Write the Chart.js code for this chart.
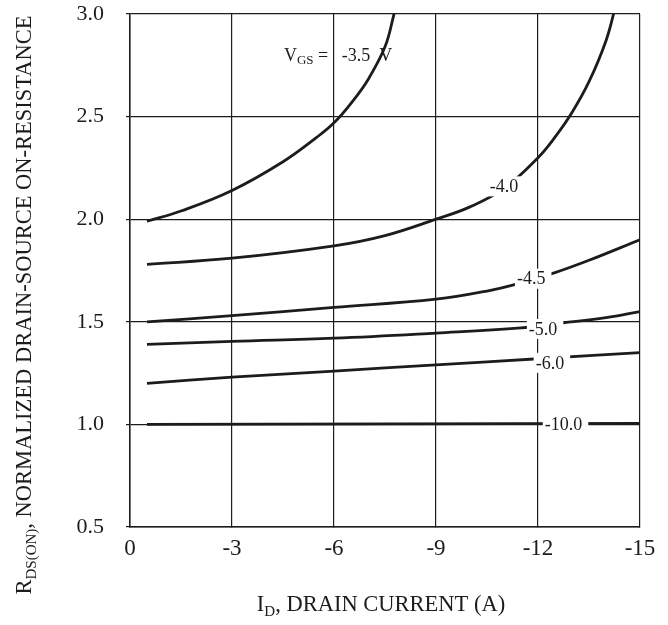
<!DOCTYPE html>
<html lang="en">
<head>
  <meta charset="UTF-8">
  <title>RDS(ON) vs ID</title>
  <style>
    html, body { margin: 0; padding: 0; background: #fff; }
    #wrap { width: 668px; height: 625px; }
  </style>
</head>
<body>
<div id="wrap"><canvas id="rdsChart" width="668" height="625"></canvas></div>

<script src="https://cdn.jsdelivr.net/npm/chart.js"></script>
<script>
  // ticks
  const xTicks = [0, -3, -6, -9, -12, -15];
  const yTicks = [0.5, 1.0, 1.5, 2.0, 2.5, 3.0];

  // curves (ID in A, normalized RDS(ON))
  const vgs35X = [-0.5, -1.5, -3, -4.5, -5.5, -6, -6.5, -7, -7.5, -7.75, -7.9];
  const vgs35Y = [1.99, 2.04, 2.14, 2.28, 2.40, 2.47, 2.565, 2.68, 2.84, 2.99, 3.1];

  const vgs40X = [-0.5, -3, -6, -7.5, -9, -10, -11, -12, -12.5, -13, -13.5, -14, -14.3];
  const vgs40Y = [1.78, 1.81, 1.87, 1.92, 2.0, 2.06, 2.15, 2.3, 2.4, 2.52, 2.67, 2.87, 3.05];

  const vgs45X = [-0.5, -3, -6, -9, -10.5, -11.5, -12.5, -13.5, -15];
  const vgs45Y = [1.5, 1.53, 1.57, 1.61, 1.65, 1.69, 1.74, 1.8, 1.9];

  const vgs50X = [-0.5, -3, -6, -9, -11.5, -12.5, -14, -15];
  const vgs50Y = [1.39, 1.405, 1.42, 1.445, 1.47, 1.49, 1.52, 1.55];

  const vgs60X = [-0.5, -3, -6, -9, -12, -15];
  const vgs60Y = [1.2, 1.23, 1.26, 1.29, 1.32, 1.35];

  const vgs100X = [-0.5, -15];
  const vgs100Y = [1.0, 1.005];

  // curve labels: text, x, y
  const curveLabels = [
    ['-4.0', -11.0, 2.16],
    ['-4.5', -11.8, 1.71],
    ['-5.0', -12.15, 1.465],
    ['-6.0', -12.35, 1.30],
    ['-10.0', -12.75, 1.0]
  ];

  function pts(xs, ys) {
    return xs.map((x, i) => ({ x: x, y: ys[i] }));
  }

  const ink = '#1c1c1c';
  const serif = '"Liberation Serif", "Times New Roman", serif';

  function curve(label, xs, ys) {
    return {
      label: label,
      data: pts(xs, ys),
      borderColor: ink,
      borderWidth: 2.8,
      pointRadius: 0,
      fill: false,
      tension: 0.4
    };
  }

  // labels on the curves + axis titles with subscripts
  const annotate = {
    id: 'annotate',
    afterDatasetsDraw(chart) {
      const ctx = chart.ctx;
      const xs = chart.scales.x, ys = chart.scales.y;
      ctx.save();
      ctx.font = '18px ' + serif;
      ctx.textAlign = 'center';
      ctx.textBaseline = 'middle';
      curveLabels.forEach(([t, x, y]) => {
        const px = xs.getPixelForValue(x);
        const py = ys.getPixelForValue(y);
        const w = ctx.measureText(t).width;
        ctx.fillStyle = '#fff';
        ctx.fillRect(px - w / 2 - 2, py - 10, w + 8, 20);
        ctx.fillStyle = ink;
        ctx.fillText(t, px, py + 1);
      });

      // VGS = -3.5 V
      let px = xs.getPixelForValue(-6.12);
      const py = ys.getPixelForValue(2.80);
      const big = '18px ' + serif, small = '13px ' + serif;
      ctx.textAlign = 'left';
      ctx.textBaseline = 'alphabetic';
      ctx.font = big; const w1 = ctx.measureText('V').width;
      ctx.font = small; const w2 = ctx.measureText('GS').width;
      ctx.font = big; const w3 = ctx.measureText(' =   -3.5  V').width;
      px -= (w1 + w2 + w3) / 2;
      ctx.fillStyle = ink;
      ctx.font = big; ctx.fillText('V', px, py + 6);
      ctx.font = small; ctx.fillText('GS', px + w1, py + 9);
      ctx.font = big; ctx.fillText(' =   -3.5  V', px + w1 + w2, py + 6);
      ctx.restore();
    },
    afterDraw(chart) {
      const ctx = chart.ctx;
      const area = chart.chartArea;
      ctx.save();
      ctx.fillStyle = ink;
      ctx.textBaseline = 'alphabetic';
      ctx.textAlign = 'left';

      // x title
      let big = '22.5px ' + serif, small = '15px ' + serif;
      const a = 'I', b = 'D', c = ', DRAIN CURRENT (A)';
      ctx.font = big; const wa = ctx.measureText(a).width, wc = ctx.measureText(c).width;
      ctx.font = small; const wb = ctx.measureText(b).width;
      let x0 = (area.left + area.right) / 2 - (wa + wb + wc) / 2 - 4;
      const yb = 611;
      ctx.font = big; ctx.fillText(a, x0, yb);
      ctx.font = small; ctx.fillText(b, x0 + wa, yb + 5);
      ctx.font = big; ctx.fillText(c, x0 + wa + wb, yb);

      // y title (rotated)
      big = '22.5px ' + serif; small = '15px ' + serif;
      const r = 'R', s = 'DS(ON)', t = ', NORMALIZED DRAIN-SOURCE ON-RESISTANCE';
      ctx.font = big; const wr = ctx.measureText(r).width, wt = ctx.measureText(t).width;
      ctx.font = small; const ws = ctx.measureText(s).width;
      ctx.translate(31, 305);
      ctx.rotate(-Math.PI / 2);
      x0 = -(wr + ws + wt) / 2;
      ctx.font = big; ctx.fillText(r, x0, 0);
      ctx.font = small; ctx.fillText(s, x0 + wr, 5);
      ctx.font = big; ctx.fillText(t, x0 + wr + ws, 0);
      ctx.restore();
    }
  };

  new Chart(document.getElementById('rdsChart').getContext('2d'), {
    type: 'line',
    data: {
      datasets: [
        curve('-3.5', vgs35X, vgs35Y),
        curve('-4.0', vgs40X, vgs40Y),
        curve('-4.5', vgs45X, vgs45Y),
        curve('-5.0', vgs50X, vgs50Y),
        curve('-6.0', vgs60X, vgs60Y),
        curve('-10.0', vgs100X, vgs100Y)
      ]
    },
    options: {
      responsive: false,
      animation: false,
      layout: { padding: { left: 0, right: 28, top: 14, bottom: 0 } },
      plugins: {
        legend: { display: false },
        tooltip: { enabled: false }
      },
      scales: {
        x: {
          type: 'linear',
          reverse: true,
          min: -15,
          max: 0,
          afterFit(scale) {
            scale.height = 98;
            scale.paddingLeft = 0; scale.paddingRight = 0;
          },
          afterBuildTicks(scale) { scale.ticks = xTicks.map(v => ({ value: v })); },
          ticks: {
            color: ink,
            font: { family: serif, size: 23 },
            padding: 8,
            maxRotation: 0,
            callback: v => String(v)
          },
          grid: { color: ink, lineWidth: 1.2, tickLength: 0 },
          border: { color: ink, width: 1.5 }
        },
        y: {
          min: 0.5,
          max: 3.0,
          afterFit(scale) {
            scale.width = 130;
            scale.paddingTop = 0; scale.paddingBottom = 0;
          },
          afterBuildTicks(scale) { scale.ticks = yTicks.map(v => ({ value: v })); },
          ticks: {
            color: ink,
            font: { family: serif, size: 22 },
            padding: 22,
            callback: v => Number(v).toFixed(1)
          },
          grid: { color: ink, lineWidth: 1.2, tickLength: 4 },
          border: { color: ink, width: 1.5 }
        }
      }
    },
    plugins: [annotate]
  });
</script>
</body>
</html>
